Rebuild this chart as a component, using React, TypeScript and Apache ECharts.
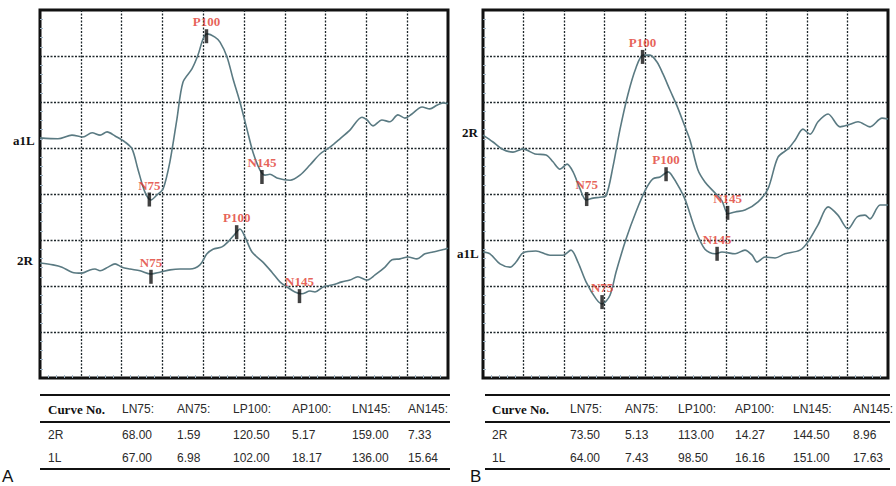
import React, { useEffect, useRef } from "react";
import * as echarts from "echarts";

// time (ms), amplitude (grid divisions)
const curveA_a1L: number[][] = [
  [0, 5.22], [11, 5.2], [19.6, 5.28], [26.3, 5.24], [31.9, 5.33], [36.8, 5.28], [41.1, 5.35], [46, 5.26],
  [52.1, 5.13], [56.4, 4.98], [60, 4.54], [64.3, 4.04], [68, 3.87], [71.7, 3.98], [75.4, 4.11], [79.6, 4.7],
  [83.9, 5.63], [87.6, 6.43], [93.1, 6.72], [96.8, 7.02], [99.9, 7.37], [102.3, 7.48], [107.2, 7.41],
  [110.3, 7.3], [114.6, 6.98], [118.3, 6.5], [122.5, 6.0], [126.8, 5.41], [130.5, 4.91], [134.8, 4.52],
  [137.9, 4.41], [140.9, 4.43], [145.2, 4.35], [153.2, 4.3], [159.3, 4.41], [165.4, 4.63], [171.6, 4.87],
  [177.7, 5.02], [183.8, 5.2], [189.9, 5.39], [197.3, 5.67], [200.4, 5.61], [204, 5.48], [209.5, 5.61],
  [214.4, 5.57], [219.3, 5.72], [223.6, 5.65], [227.9, 5.74], [234.1, 5.89], [238.9, 5.85], [243.2, 5.93],
  [246.9, 5.98], [250, 5.96],
];
const curveA_2R: number[][] = [
  [0, 2.5], [8, 2.46], [13.5, 2.41], [19.6, 2.3], [25.7, 2.28], [30.6, 2.35], [33.7, 2.37], [36.8, 2.33],
  [41.7, 2.41], [46, 2.48], [50.2, 2.41], [55.1, 2.37], [61.3, 2.33], [68, 2.26], [73.5, 2.3], [79.7, 2.35],
  [85.8, 2.37], [91.9, 2.37], [98, 2.46], [102.3, 2.7], [106, 2.8], [111.5, 2.85], [115.2, 2.96],
  [119.5, 3.13], [122.5, 3.24], [125.6, 3.07], [129.9, 2.74], [136.6, 2.52], [142.1, 2.3], [147, 2.09],
  [151.3, 1.98], [156.2, 1.87], [160.5, 1.83], [165.4, 1.89], [168.5, 1.87], [173.4, 1.98], [178.9, 2.02],
  [185, 2.09], [189.9, 2.13], [194.8, 2.2], [200.4, 2.13], [205.3, 2.24], [211.4, 2.41], [215.7, 2.57],
  [220.6, 2.59], [225.5, 2.63], [231, 2.59], [235.9, 2.7], [240.8, 2.74], [248.1, 2.8], [250, 2.82],
];
const curveB_2R: number[][] = [
  [0, 5.28], [6.2, 5.13], [11.7, 4.98], [18.5, 4.91], [24.7, 4.98], [32.1, 4.87], [38.9, 4.85], [43.2, 4.7],
  [47.5, 4.54], [51.9, 4.65], [55.6, 4.48], [59.9, 4.11], [63.6, 3.87], [67.9, 3.91], [72.2, 3.93],
  [75.9, 3.96], [80.2, 4.59], [84.6, 5.41], [89.5, 6.17], [94.4, 6.74], [98.8, 7.02], [103.1, 7.02],
  [107.4, 6.87], [111.1, 6.61], [115.4, 6.26], [119.8, 5.91], [124.7, 5.46], [127.8, 5.17], [132.7, 4.52],
  [137, 4.26], [141.4, 4.09], [147.5, 3.85], [151.2, 3.57], [155.6, 3.61], [161.7, 3.65], [169.8, 3.83],
  [175.9, 4.11], [182.1, 4.8], [188.3, 4.98], [192.6, 5.17], [197.5, 5.41], [201.9, 5.3], [206.8, 5.57],
  [213, 5.74], [220.4, 5.46], [225.3, 5.5], [231.5, 5.57], [238.9, 5.46], [246.3, 5.65], [250, 5.63],
];
const curveB_a1L: number[][] = [
  [0, 2.74], [4.3, 2.7], [10.5, 2.48], [16.7, 2.41], [20.4, 2.52], [24.7, 2.72], [32.7, 2.76], [41.4, 2.67],
  [49.4, 2.67], [54.3, 2.78], [58.6, 2.52], [63.6, 2.09], [69.8, 1.72], [73.5, 1.61], [78.4, 1.8],
  [82.1, 2.3], [88.3, 3.02], [94.4, 3.61], [100.6, 4.11], [104.9, 4.33], [109.3, 4.37], [114.2, 4.48],
  [116.1, 4.43], [121.6, 4.11], [125.3, 3.83], [130.9, 3.24], [137, 2.8], [143.2, 2.7], [147.5, 2.74],
  [155.6, 2.7], [161.7, 2.78], [166.1, 2.67], [169.1, 2.52], [174.1, 2.63], [180.3, 2.61], [186.4, 2.7],
  [195.7, 2.78], [200.6, 2.96], [206.8, 3.33], [213, 3.72], [219.1, 3.54], [225.3, 3.24], [230.9, 3.5],
  [235.8, 3.54], [238.9, 3.46], [245.1, 3.76], [250, 3.76],
];

const peakNames = ["N75", "P100", "N145"];
const peaksA_a1L: number[][] = [[67, 3.88], [102, 7.43], [136, 4.37]];
const peaksA_2R: number[][] = [[68, 2.2], [120.5, 3.17], [159, 1.78]];
const peaksB_2R: number[][] = [[64, 3.89], [98.5, 6.98], [151, 3.59]];
const peaksB_a1L: number[][] = [[73.5, 1.65], [113, 4.43], [144.5, 2.7]];

const tableHeaders = ["Curve No.", "LN75:", "AN75:", "LP100:", "AP100:", "LN145:", "AN145:"];
const tableARows = [
  ["2R", "68.00", "1.59", "120.50", "5.17", "159.00", "7.33"],
  ["1L", "67.00", "6.98", "102.00", "18.17", "136.00", "15.64"],
];
const tableBRows = [
  ["2R", "73.50", "5.13", "113.00", "14.27", "144.50", "8.96"],
  ["1L", "64.00", "7.43", "98.50", "16.16", "151.00", "17.63"],
];

const SERIF = "'Liberation Serif', 'DejaVu Serif', serif";
const SANS = "'Liberation Sans', Arial, sans-serif";
const CURVE = "#5a7a82";

function makeTable(left: number, right: number, cols: number[], rows: string[][]) {
  const els: any[] = [];
  [395, 422, 469].forEach((y) =>
    els.push({ type: "line", shape: { x1: left, y1: y, x2: right, y2: y }, style: { stroke: "#111", lineWidth: 2.2 } })
  );
  tableHeaders.forEach((h, i) =>
    els.push({
      type: "text",
      style: {
        text: h, x: cols[i], y: 409, verticalAlign: "middle", fill: i === 0 ? "#111" : "#2a2a2a",
        font: i === 0 ? `bold 13px ${SERIF}` : `12px ${SANS}`,
      },
    })
  );
  rows.forEach((r, ri) =>
    r.forEach((c, i) =>
      els.push({
        type: "text",
        style: { text: c, x: cols[i], y: ri === 0 ? 435 : 458, verticalAlign: "middle", fill: "#2a2a2a", font: `12px ${SANS}` },
      })
    )
  );
  return els;
}

export default function App() {
  const ref = useRef<HTMLDivElement>(null);
  useEffect(() => {
    const chart = echarts.init(ref.current!, null, { renderer: "svg" });
    const split = { show: true, showMinLine: false, showMaxLine: false, lineStyle: { color: "#1e272b", type: [2, 1.5], width: 1.3 } };
    const minor = { show: true, splitNumber: 5, length: 3, lineStyle: { color: "#9fb4c4", width: 1 } };
    const mkX = (gi: number) => ({
      type: "value", gridIndex: gi, min: 0, max: 250, interval: 25,
      axisLabel: { show: false }, axisLine: { show: false },
      axisTick: { show: false, inside: true }, minorTick: minor, splitLine: split,
    });
    const mkY = (gi: number) => ({
      type: "value", gridIndex: gi, min: 0, max: 8, interval: 1,
      axisLabel: { show: false }, axisLine: { show: false },
      axisTick: { show: false, inside: true }, minorTick: minor, splitLine: split,
    });
    const line = (data: number[][], gi: number) => ({
      type: "line", xAxisIndex: gi, yAxisIndex: gi, data, showSymbol: false, smooth: 0.3,
      lineStyle: { color: CURVE, width: 1.6 }, z: 3,
    });
    const peaks = (pts: number[][], gi: number) => ({
      type: "scatter", xAxisIndex: gi, yAxisIndex: gi, z: 5,
      data: pts.map((p, i) => ({ name: peakNames[i], value: p })),
      symbol: "rect", symbolSize: [3.5, 14], itemStyle: { color: "#111" },
      label: {
        show: true, position: "top", distance: 1, formatter: "{b}", color: "#e0392e",
        fontFamily: SERIF, fontWeight: "bold", fontSize: 13,
      },
    });
    const sideLabel = (text: string, x: number, y: number) => ({
      type: "text", style: { text, x, y, verticalAlign: "middle", fill: "#111", font: `bold 13px ${SERIF}` },
    });
    chart.setOption({
      animation: false,
      grid: [
        { left: 40, top: 10, width: 408, height: 368, show: true, borderColor: "#111", borderWidth: 3 },
        { left: 483, top: 10, width: 405, height: 368, show: true, borderColor: "#111", borderWidth: 3 },
      ],
      xAxis: [mkX(0), mkX(1)],
      yAxis: [mkY(0), mkY(1)],
      series: [
        line(curveA_a1L, 0), line(curveA_2R, 0), line(curveB_2R, 1), line(curveB_a1L, 1),
        peaks(peaksA_a1L, 0), peaks(peaksA_2R, 0), peaks(peaksB_2R, 1), peaks(peaksB_a1L, 1),
      ],
      graphic: [
        sideLabel("a1L", 13, 140),
        sideLabel("2R", 17, 260),
        sideLabel("2R", 462, 132),
        sideLabel("a1L", 457, 253),
        ...makeTable(40, 450, [48, 122, 177, 233, 292, 352, 408], tableARows),
        ...makeTable(485, 890, [492, 570, 625, 678, 735, 793, 853], tableBRows),
        { type: "text", style: { text: "A", x: 2, y: 476, verticalAlign: "middle", fill: "#111", font: `17px ${SANS}` } },
        { type: "text", style: { text: "B", x: 470, y: 476, verticalAlign: "middle", fill: "#111", font: `17px ${SANS}` } },
      ],
    });
    return () => chart.dispose();
  }, []);
  return (
    <div
      ref={ref}
      style={{ position: "fixed", left: 0, top: 0, width: 896, height: 486, background: "#fff" }}
    />
  );
}
